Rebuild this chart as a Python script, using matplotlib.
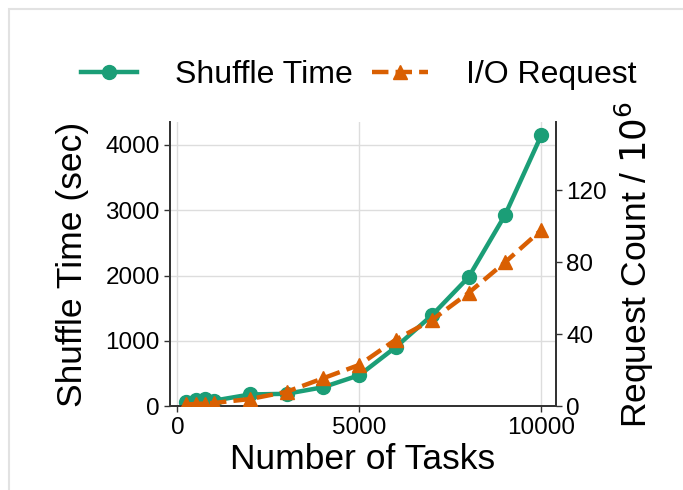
import numpy as np
import matplotlib.pyplot as plt
from matplotlib.patches import Rectangle

plt.rcParams['font.family'] = ['Liberation Sans', 'DejaVu Sans']

# Data
tasks = [250, 500, 750, 1000, 2000, 3000, 4000, 5000, 6000, 7000, 8000, 9000, 10000]
shuffle_time = [70, 90, 110, 85, 180, 190, 290, 475, 905, 1395, 1975, 2925, 4150]
io_requests = [1, 1.2, 1.5, 1.8, 4, 8, 15.5, 23, 37, 48, 63, 80, 98]

green = '#1b9e77'
orange = '#d95f02'

fig = plt.figure(figsize=(6.83, 4.9), dpi=100)
ax = fig.add_axes([0.249, 0.171, 0.565, 0.58])
ax2 = ax.twinx()

l1, = ax.plot(tasks, shuffle_time, color=green, lw=3.2, marker='o', ms=10,
              label='Shuffle Time', zorder=3)
l2, = ax2.plot(tasks, io_requests, color=orange, lw=3.2, ls='--', marker='^', ms=10,
               label='I/O Request', zorder=3)

ax.set_xlim(-200, 10400)
ax.set_ylim(0, 4350)
ax2.set_ylim(0, 158)
ax.set_xticks([0, 5000, 10000])
ax.set_yticks([0, 1000, 2000, 3000, 4000])
ax2.set_yticks([0, 40, 80, 120])

ax.grid(True, color='#dddddd', lw=1)
ax.set_axisbelow(True)

for a in (ax, ax2):
    a.spines['top'].set_visible(False)
    a.tick_params(labelsize=17.5, length=4, width=1, colors='#333333', labelcolor='black')
    for s in a.spines.values():
        s.set_color('#333333')
        s.set_linewidth(1.3)

ax.set_xlabel('Number of Tasks', fontsize=25.5, labelpad=3)
ax.set_ylabel('Shuffle Time (sec)', fontsize=25.5, labelpad=12)
ax2.set_ylabel('Request Count / $10^6$', fontsize=25.5, labelpad=4)

fig.legend(handles=[l1, l2], loc='center', bbox_to_anchor=(0.525, 0.847), ncol=2,
           frameon=False, fontsize=23, handlelength=1.75, handletextpad=1.2,
           columnspacing=0.6)

# light card border like the screenshot
fig.patches.append(Rectangle((9 / 683, -0.1), 1.2, (490 - 9) / 490 + 0.1,
                             transform=fig.transFigure, fill=False,
                             edgecolor='#e2e2e2', lw=1.5))

fig.savefig('out.png', dpi=100)
